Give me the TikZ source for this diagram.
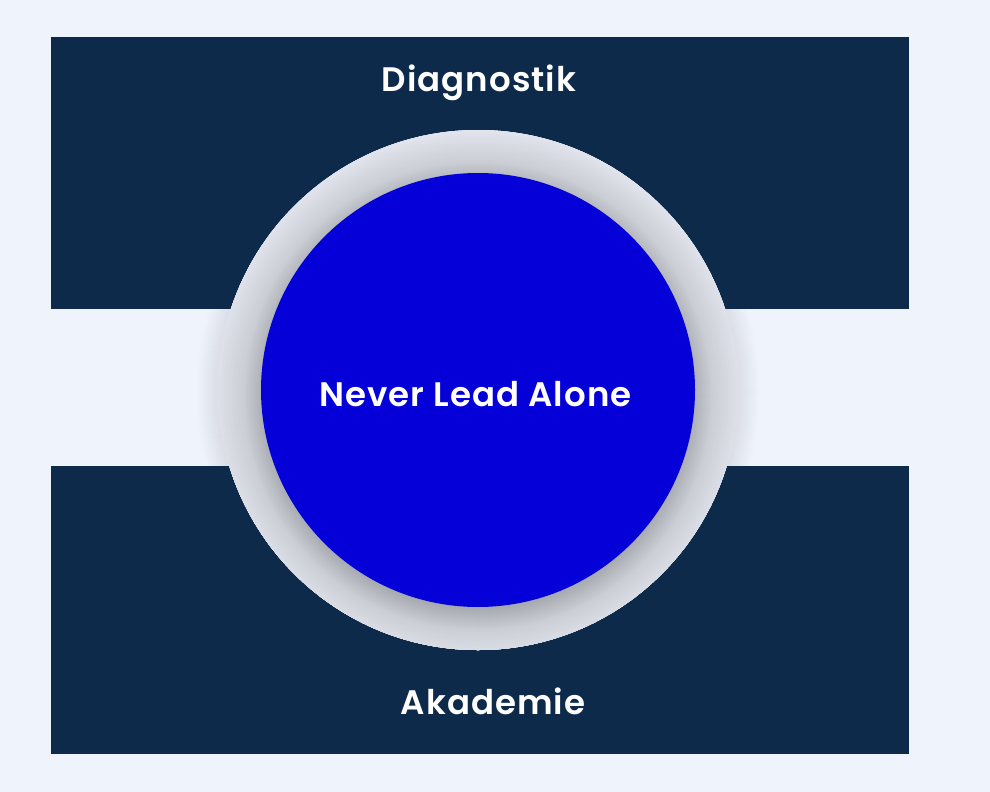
\documentclass[tikz,border=0pt]{standalone}
\usepackage{fontspec}
\IfFontExistsTF{Poppins SemiBold}{\newfontfamily\labelfont{Poppins SemiBold}[LetterSpace=3]}{\newfontfamily\labelfont{Poppins}[LetterSpace=3,UprightFeatures={FakeBold=0.6}]}
\definecolor{bgcol}{HTML}{EEF3FC}
\definecolor{navy}{HTML}{0E2A4A}
\definecolor{coreblue}{HTML}{0500D7}
\definecolor{ringlight}{HTML}{E4E7EF}
\definecolor{ringmid}{HTML}{CBCED5}
\definecolor{ringdark}{HTML}{A7AAB1}
\definecolor{shadowedge}{HTML}{DADDE5}
\tikzset{
  panel/.style={fill=navy, draw=none},
  lbl/.style={text=white, font=\labelfont\fontsize{34}{37}\selectfont, anchor=base, inner sep=0pt},
}
\begin{document}
\begin{tikzpicture}[x=1pt,y=-1pt]
\useasboundingbox (0,0) rectangle (990,792);
\fill[bgcol] (0,0) rectangle (990,792);
% outer soft shadow
\foreach \r in {282,281,...,258}{
  \pgfmathtruncatemacro\p{max(0,min(100,(282-\r)*100/22))}
  \fill[shadowedge!\p!bgcol] (478,392) circle (\r);
}
% panels
\node[panel, minimum width=858, minimum height=272, inner sep=0pt, anchor=north west] (top) at (51,37) {};
\node[panel, minimum width=858, minimum height=288, inner sep=0pt, anchor=north west] (bottom) at (51,466) {};
% halo ring with offset gradient
\begin{scope}
  \clip (478,390) circle (260);
  \fill[ringlight] (478,390) circle (260);
  \foreach \r in {270,268,...,236}{
    \pgfmathtruncatemacro\p{max(0,min(100,(270-\r)*100/34))}
    \fill[ringmid!\p!ringlight] (478,396) circle (\r);
  }
  \foreach \r in {235,234,...,210}{
    \pgfmathtruncatemacro\p{max(0,min(100,(235-\r)*100/22))}
    \fill[ringdark!\p!ringmid] (478,396) circle (\r);
  }
\end{scope}
\node[circle, draw=none, minimum size=520, inner sep=0pt] (halo) at (478,390) {};
\node[circle, fill=coreblue, draw=none, minimum size=434, inner sep=0pt] (core) at (478,390) {};
% labels
\node[lbl] (diag) at (479,91) {Diagnostik};
\node[lbl] (nla) at (475.5,406) {Never Lead Alone};
\node[lbl] (akad) at (493,714) {Akademie};
\end{tikzpicture}
\end{document}
